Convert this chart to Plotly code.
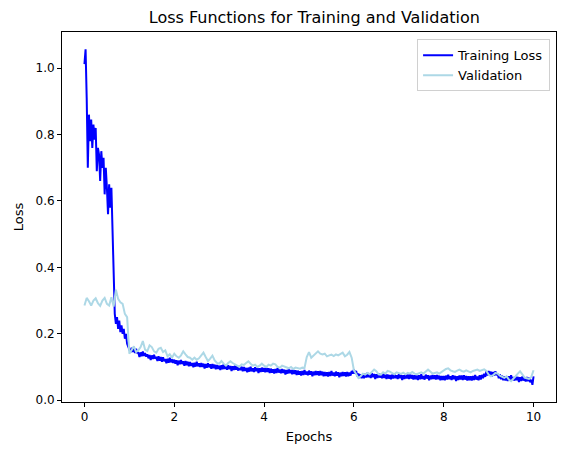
import numpy as np
import plotly.graph_objects as go

# training loss, one value every 0.025 epoch
train_loss = [
    1.012, 1.057, 0.910, 0.700, 0.860, 0.780, 0.845, 0.760,
    0.830, 0.785, 0.820, 0.690, 0.760, 0.740, 0.660, 0.750,
    0.700, 0.730, 0.620, 0.700, 0.640, 0.560, 0.650, 0.580,
    0.640, 0.520, 0.420, 0.260, 0.230, 0.250, 0.215, 0.240,
    0.205, 0.225, 0.200, 0.215, 0.185, 0.200, 0.170, 0.160,
    0.157, 0.144, 0.158, 0.145, 0.156, 0.142, 0.155, 0.143,
    0.143, 0.130, 0.144, 0.132, 0.147, 0.133, 0.142, 0.131,
    0.138, 0.126, 0.136, 0.121, 0.135, 0.124, 0.137, 0.125,
    0.131, 0.118, 0.132, 0.119, 0.130, 0.116, 0.129, 0.117,
    0.124, 0.111, 0.125, 0.113, 0.128, 0.114, 0.123, 0.112,
    0.122, 0.110, 0.120, 0.105, 0.119, 0.108, 0.121, 0.109,
    0.117, 0.104, 0.118, 0.105, 0.116, 0.102, 0.115, 0.103,
    0.112, 0.099, 0.113, 0.101, 0.116, 0.102, 0.111, 0.100,
    0.112, 0.100, 0.110, 0.095, 0.109, 0.098, 0.111, 0.099,
    0.108, 0.095, 0.109, 0.096, 0.107, 0.093, 0.106, 0.094,
    0.104, 0.091, 0.105, 0.093, 0.108, 0.094, 0.103, 0.092,
    0.105, 0.093, 0.103, 0.088, 0.102, 0.091, 0.104, 0.092,
    0.102, 0.089, 0.103, 0.090, 0.101, 0.087, 0.100, 0.088,
    0.097, 0.084, 0.098, 0.086, 0.101, 0.087, 0.096, 0.085,
    0.099, 0.087, 0.097, 0.082, 0.096, 0.085, 0.098, 0.086,
    0.097, 0.084, 0.098, 0.085, 0.096, 0.082, 0.095, 0.083,
    0.093, 0.080, 0.094, 0.082, 0.097, 0.083, 0.092, 0.081,
    0.094, 0.082, 0.092, 0.077, 0.091, 0.080, 0.093, 0.081,
    0.091, 0.078, 0.092, 0.079, 0.090, 0.076, 0.089, 0.077,
    0.087, 0.074, 0.088, 0.076, 0.091, 0.077, 0.086, 0.075,
    0.089, 0.077, 0.087, 0.072, 0.086, 0.075, 0.088, 0.076,
    0.087, 0.074, 0.088, 0.075, 0.086, 0.072, 0.085, 0.073,
    0.084, 0.071, 0.085, 0.073, 0.088, 0.074, 0.083, 0.072,
    0.086, 0.074, 0.084, 0.069, 0.083, 0.072, 0.085, 0.073,
    0.084, 0.071, 0.085, 0.072, 0.083, 0.074, 0.088, 0.080,
    0.092, 0.080, 0.088, 0.072, 0.080, 0.067, 0.078, 0.066,
    0.079, 0.066, 0.080, 0.068, 0.083, 0.069, 0.078, 0.067,
    0.081, 0.069, 0.079, 0.064, 0.078, 0.067, 0.080, 0.068,
    0.079, 0.066, 0.080, 0.067, 0.078, 0.064, 0.077, 0.065,
    0.076, 0.063, 0.077, 0.065, 0.080, 0.066, 0.075, 0.064,
    0.078, 0.066, 0.076, 0.061, 0.075, 0.064, 0.077, 0.065,
    0.077, 0.064, 0.078, 0.065, 0.076, 0.062, 0.075, 0.063,
    0.074, 0.061, 0.075, 0.063, 0.078, 0.064, 0.073, 0.062,
    0.077, 0.065, 0.075, 0.060, 0.074, 0.063, 0.076, 0.064,
    0.075, 0.062, 0.076, 0.063, 0.074, 0.060, 0.073, 0.061,
    0.073, 0.060, 0.074, 0.062, 0.077, 0.063, 0.072, 0.061,
    0.075, 0.063, 0.073, 0.058, 0.072, 0.061, 0.074, 0.062,
    0.074, 0.061, 0.075, 0.062, 0.073, 0.059, 0.072, 0.060,
    0.072, 0.059, 0.073, 0.061, 0.076, 0.062, 0.071, 0.060,
    0.075, 0.062, 0.076, 0.066, 0.080, 0.070, 0.087, 0.074,
    0.088, 0.076, 0.086, 0.071, 0.085, 0.074, 0.087, 0.075,
    0.080, 0.066, 0.078, 0.063, 0.074, 0.060, 0.072, 0.059,
    0.071, 0.058, 0.072, 0.060, 0.075, 0.061, 0.070, 0.059,
    0.072, 0.060, 0.070, 0.055, 0.069, 0.058, 0.071, 0.059,
    0.069, 0.056, 0.070, 0.057, 0.068, 0.054, 0.062, 0.046,
    0.072,
]

# validation loss, one value every 0.05 epoch
val_loss = [
    0.285, 0.308, 0.298, 0.285, 0.300, 0.307, 0.292, 0.284,
    0.300, 0.308, 0.290, 0.285, 0.310, 0.282, 0.333, 0.305,
    0.295, 0.290, 0.260, 0.250, 0.140, 0.152, 0.162, 0.145,
    0.150, 0.160, 0.178, 0.152, 0.148, 0.165, 0.160, 0.147,
    0.143, 0.155, 0.158, 0.145, 0.150, 0.132, 0.138, 0.128,
    0.140, 0.132, 0.128, 0.135, 0.147, 0.138, 0.130, 0.128,
    0.122, 0.128, 0.122, 0.126, 0.135, 0.143, 0.130, 0.118,
    0.125, 0.134, 0.120, 0.112, 0.110, 0.118, 0.110, 0.104,
    0.112, 0.117, 0.112, 0.108, 0.102, 0.100, 0.108, 0.106,
    0.112, 0.117, 0.110, 0.104, 0.107, 0.100, 0.104, 0.110,
    0.104, 0.100, 0.107, 0.104, 0.110, 0.108, 0.100, 0.098,
    0.104, 0.102, 0.100, 0.096, 0.100, 0.094, 0.098, 0.097,
    0.095, 0.098, 0.097, 0.130, 0.145, 0.128, 0.135, 0.140,
    0.147, 0.140, 0.138, 0.140, 0.132, 0.135, 0.137, 0.133,
    0.138, 0.135, 0.140, 0.143, 0.132, 0.137, 0.145, 0.128,
    0.090, 0.078, 0.067, 0.072, 0.080, 0.077, 0.082, 0.078,
    0.085, 0.092, 0.087, 0.078, 0.077, 0.084, 0.080, 0.088,
    0.086, 0.082, 0.078, 0.084, 0.082, 0.079, 0.083, 0.078,
    0.082, 0.080, 0.085, 0.080, 0.078, 0.082, 0.084, 0.080,
    0.086, 0.092, 0.086, 0.080, 0.082, 0.084, 0.080, 0.085,
    0.088, 0.094, 0.096, 0.090, 0.087, 0.085, 0.089, 0.092,
    0.088, 0.086, 0.090, 0.087, 0.084, 0.088, 0.090, 0.092,
    0.088, 0.090, 0.093, 0.088, 0.077, 0.072, 0.075, 0.082,
    0.080, 0.074, 0.070, 0.067, 0.072, 0.062, 0.057, 0.066,
    0.072, 0.080, 0.087, 0.078, 0.068, 0.066, 0.064, 0.070,
    0.090,
]

train_epochs = np.linspace(0, 10, len(train_loss))
val_epochs = np.linspace(0, 10, len(val_loss))

x_ticks = [0, 2, 4, 6, 8, 10]
y_ticks = [0.0, 0.2, 0.4, 0.6, 0.8, 1.0]

fig = go.Figure()

fig.add_trace(go.Scatter(
    x=train_epochs, y=train_loss, mode='lines', name='Training Loss',
    line=dict(color='#0000ff', width=2)
))
fig.add_trace(go.Scatter(
    x=val_epochs, y=val_loss, mode='lines', name='Validation',
    line=dict(color='#add8e6', width=2)
))

axis_style = dict(
    showgrid=False, zeroline=False, showline=True, linecolor='black',
    linewidth=1, mirror=True, ticks='outside', ticklen=4, tickwidth=1,
    tickcolor='black', tickfont=dict(size=12, color='black')
)

# page body adds an 8px offset, so the figure is a bit smaller than the window
fig.update_layout(
    width=559, height=447,
    margin=dict(l=53, r=10, t=24, b=53),
    paper_bgcolor='white', plot_bgcolor='white',
    font=dict(family='DejaVu Sans', color='black'),
    title=dict(text='Loss Functions for Training and Validation',
               x=0.548, xanchor='center', y=0.98, yanchor='middle',
               font=dict(size=16)),
    xaxis=dict(title=dict(text='Epochs', font=dict(size=13), standoff=8),
               range=[-0.5, 10.5], tickvals=x_ticks, **axis_style),
    yaxis=dict(title=dict(text='Loss', font=dict(size=13), standoff=8),
               range=[-0.0055, 1.109], tickvals=y_ticks, tickformat='.1f',
               **axis_style),
    legend=dict(x=0.988, xanchor='right', y=0.98, yanchor='top',
                bordercolor='#d0d0d0', borderwidth=1, bgcolor='white',
                font=dict(size=13)),
    showlegend=True,
)

fig.write_html("out.html")
